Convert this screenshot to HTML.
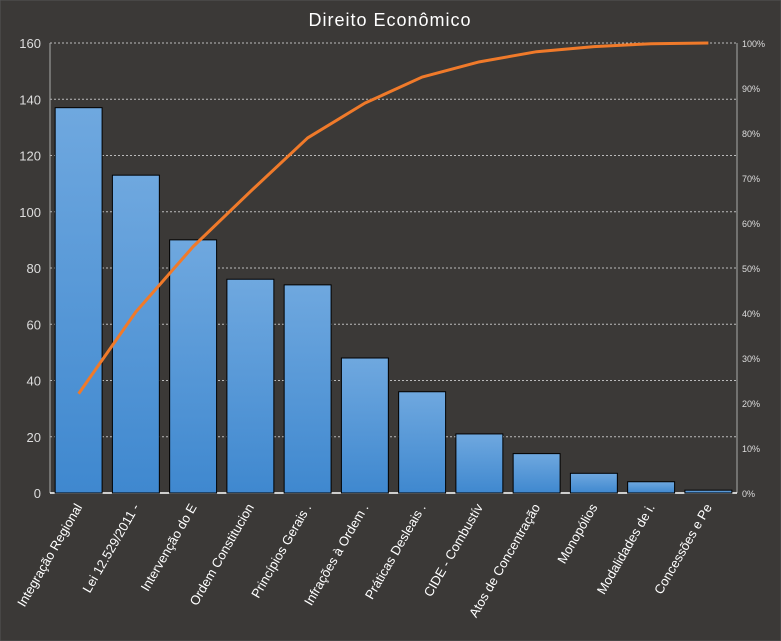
<!DOCTYPE html>
<html><head><meta charset="utf-8"><style>
html,body{margin:0;padding:0;background:#3b3937;}
svg{display:block;font-family:"Liberation Sans",sans-serif;}
</style></head><body>
<svg id="chart" width="781" height="641" viewBox="0 0 781 641">
<defs><linearGradient id="bg" x1="0" y1="0" x2="0" y2="1"><stop offset="0" stop-color="#6fa8df"/><stop offset="1" stop-color="#3f88cf"/></linearGradient></defs>
<rect x="0" y="0" width="781" height="641" fill="#3b3937" stroke="#555"/>
<text x="390" y="26" fill="#fff" font-size="18" text-anchor="middle" letter-spacing="1">Direito Econômico</text>
<g id="grid"></g><g id="bars"></g><g id="line"></g><g id="labels"></g>
</svg>
<script>
const categories=["Integração Regional","Lei 12.529/2011 -","Intervenção do E","Ordem Constitucion","Princípios Gerais .","Infrações à Ordem .","Práticas Desleais .","CIDE - Combustív","Atos de Concentração","Monopólios","Modalidades de i.","Concessões e Pe"];
const values=[137,113,90,76,74,48,36,21,14,7,4,1];
const leftTicks=[0,20,40,60,80,100,120,140,160];
const rightTicks=[0,10,20,30,40,50,60,70,80,90,100];
const NS="http://www.w3.org/2000/svg";
const L=50,R=737,T=43,B=493,maxY=160;
const slot=(R-L)/categories.length;
const y=v=>B-(v/maxY)*(B-T);
const yp=p=>B-(p/100)*(B-T);
const xc=i=>L+slot*(i+0.5);
function mk(tag,attrs,parent){const e=document.createElementNS(NS,tag);for(const k in attrs)e.setAttribute(k,attrs[k]);document.getElementById(parent).appendChild(e);return e;}
leftTicks.forEach(t=>{
  if(t>0){const g=mk('line',{x1:L,x2:R,y1:y(t),y2:y(t),stroke:'#bbb','stroke-dasharray':'2,2','stroke-width':1},'grid');
  
  }
  const tx=mk('text',{x:41,y:y(t)+5,fill:'#ddd','font-size':13,'text-anchor':'end'},'grid');tx.textContent=t;
  
  
});
rightTicks.forEach(t=>{
  const tx=mk('text',{x:742,y:yp(t)+4,fill:'#ddd','font-size':9},'grid');tx.textContent=t+'%';
  
  
});
const ax1=mk('line',{x1:L,x2:L,y1:T,y2:B,stroke:'#aaa'},'grid');


const ax2=mk('line',{x1:R,x2:R,y1:T,y2:B,stroke:'#aaa'},'grid');


const total=values.reduce((a,b)=>a+b,0);
let cum=0;const pts=[];
values.forEach((v,i)=>{
  const bw=slot*0.82;
  const r=mk('rect',{x:xc(i)-bw/2,y:y(v),width:bw,height:B-y(v),fill:'url(#bg)',stroke:'#000','stroke-width':1},'bars');
  
  
  cum+=v;pts.push(xc(i)+','+yp(cum/total*100));
  const t=mk('text',{x:0,y:0,fill:'#fff','font-size':13,'text-anchor':'end',transform:`translate(${xc(i)+4},${B+14}) rotate(-60)`},'labels');
  t.textContent=categories[i];
  
  
});
const xa=mk('line',{x1:L,x2:R,y1:B,y2:B,stroke:'#fff','stroke-width':1.5},'grid');


const pl=mk('polyline',{points:pts.join(' '),fill:'none',stroke:'#f07a2a','stroke-width':3,'stroke-linejoin':'round'},'line');


</script>
</body></html>
